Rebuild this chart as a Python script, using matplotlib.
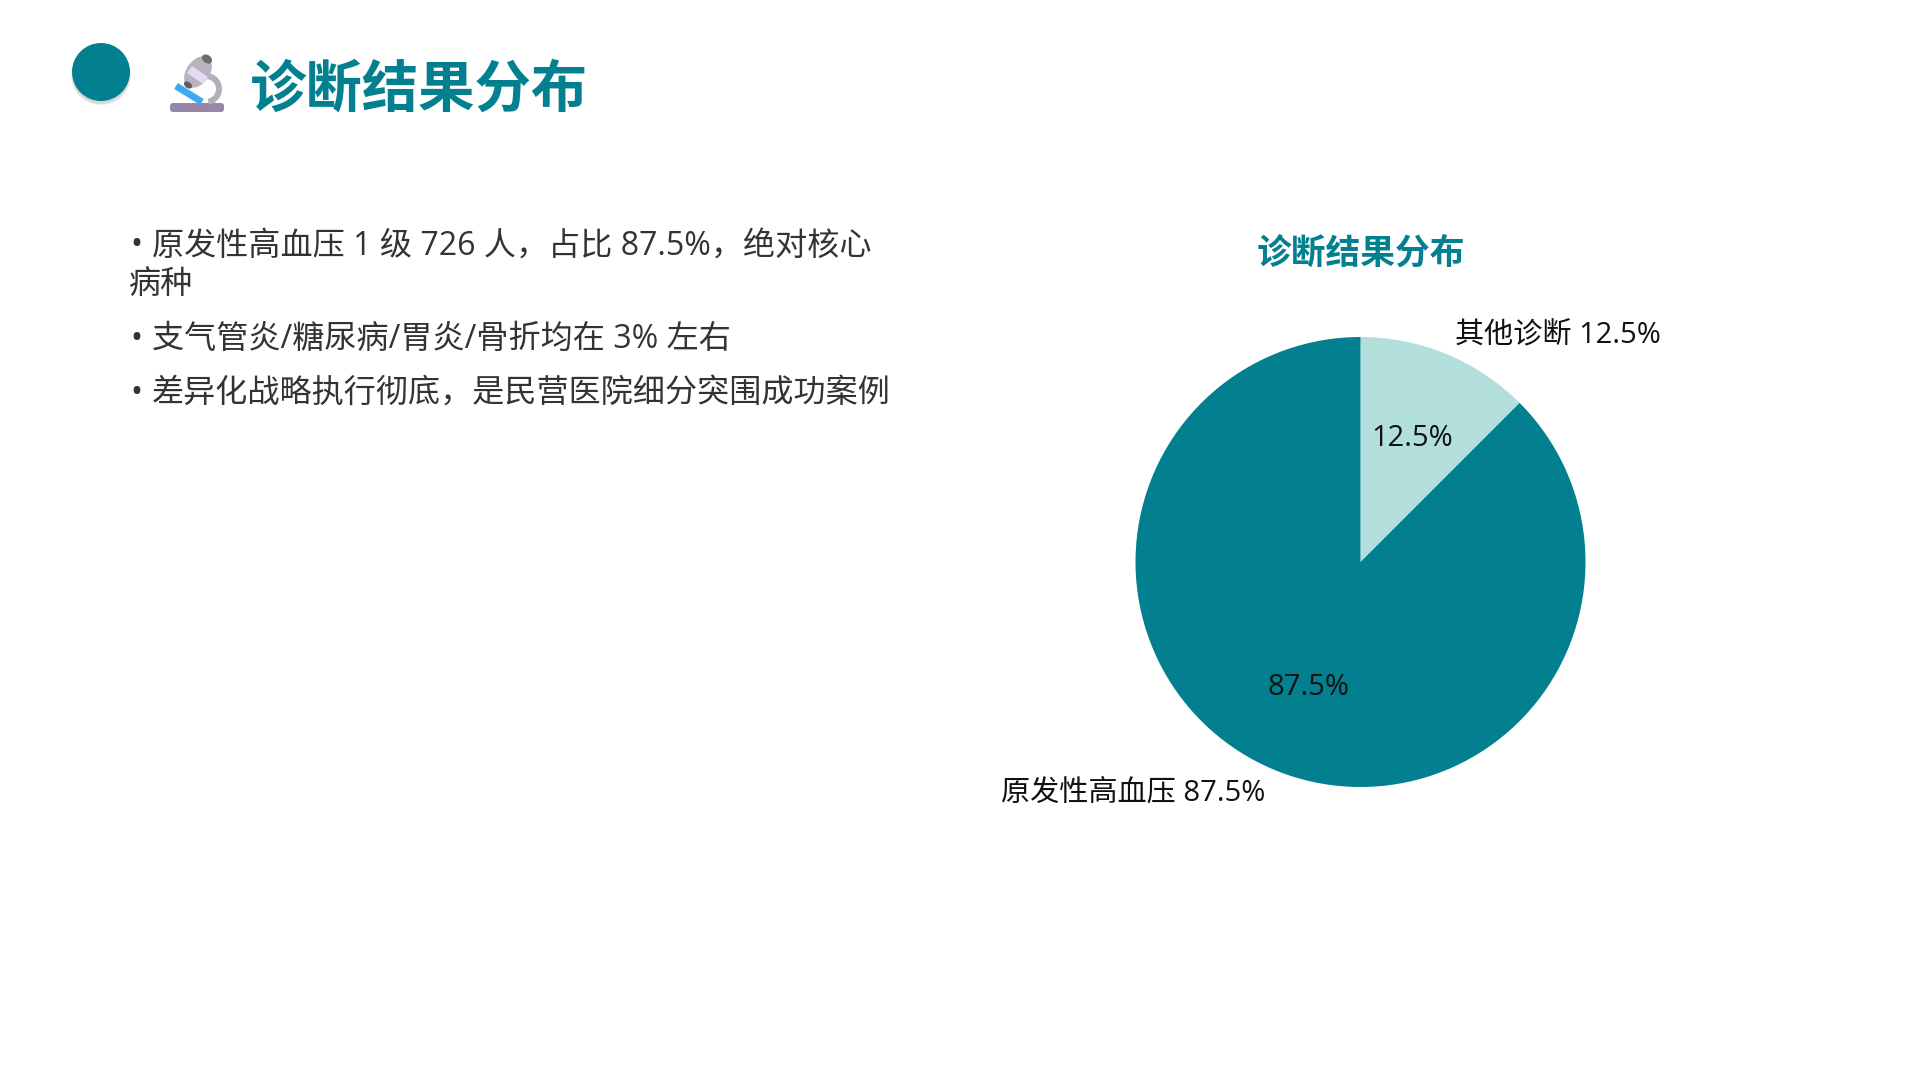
import matplotlib
matplotlib.use('Agg')
import matplotlib.pyplot as plt
from matplotlib.patches import Circle, Ellipse, FancyBboxPatch, Wedge, Polygon

plt.rcParams['font.family'] = ['Open Sans', 'Noto Sans CJK SC', 'DejaVu Sans']

# Data
labels = ['其他诊断 12.5%', '原发性高血压 87.5%']
values = [12.5, 87.5]
colors = ['#B2DFDB', '#028090']
page_title = '诊断结果分布'
chart_title = '诊断结果分布'
bullets = [
    '原发性高血压 1 级 726 人，占比 87.5%，绝对核心',
    '支气管炎/糖尿病/胃炎/骨折均在 3% 左右',
    '差异化战略执行彻底，是民营医院细分突围成功案例',
]
bullet_y = [246, 339, 393]
wrapped_line = '病种'
wrapped_y = 285

W, H = 1920, 1080
fig = plt.figure(figsize=(W / 100, H / 100), dpi=100, facecolor='white')

# overlay in pixel coordinates for the slide parts
bg = fig.add_axes([0, 0, 1, 1])
bg.set_xlim(0, W)
bg.set_ylim(H, 0)
bg.axis('off')

# round badge with soft shadow
for i in range(8):
    bg.add_patch(Circle((101, 75), 30.5 - 0.3 * i, color='#000000', alpha=0.02, lw=0))
bg.add_patch(Circle((101, 72), 29, color='#028090', lw=0))

# microscope icon
bg.add_patch(FancyBboxPatch((170, 103), 54, 9, boxstyle='round,pad=0,rounding_size=3', fc='#9587A5', ec='none'))
bg.add_patch(Wedge((206, 89), 16, -85, 80, width=6, fc='#B4AEB8', ec='none'))
bg.plot([176, 202], [86, 102], color='#3FA9F5', lw=5, solid_capstyle='butt')
bg.add_patch(Ellipse((198, 72), 23, 35, angle=36, fc='#B9B3BD', ec='none'))
bg.add_patch(Polygon([[187, 73], [203, 84], [208, 77], [192, 66]], fc='#E6D9F2', ec='none'))
bg.add_patch(Ellipse((207, 59), 11, 8, angle=36, fc='#6E6A70', ec='none'))
bg.add_patch(Ellipse((188, 85), 9, 6, angle=36, fc='#5E5A60', ec='none'))

# headings and bullets
bg.text(250, 92, page_title, fontsize=40.6, fontweight='bold', color='#028090', ha='left', va='center')
for line, y in zip(bullets, bullet_y):
    bg.text(130, y, '•', fontsize=23.1, color='#333333', ha='left', va='center')
    bg.text(152, y, line, fontsize=23.1, color='#333333', ha='left', va='center')
bg.text(129, wrapped_y, wrapped_line, fontsize=23.1, color='#333333', ha='left', va='center')

# pie chart
cx, cy, r = 1360.5, 562, 225
span = r * 1.25
ax = fig.add_axes([(cx - span) / W, 1 - (cy + span) / H, 2 * span / W, 2 * span / H])
wedges, texts, pcts = ax.pie(values, labels=labels, colors=colors, autopct='%1.1f%%', startangle=90,
                             counterclock=False, pctdistance=0.6, labeldistance=1.1,
                             textprops={'fontsize': 21, 'color': '#111111'},
                             wedgeprops={'linewidth': 0})
for t in texts:
    x, y = t.get_position()
    t.set_position((x, y - 0.011))
for t in pcts:
    x, y = t.get_position()
    t.set_position((x, y - 0.005))
ax.set_xlim(-1.25, 1.25)
ax.set_ylim(-1.25, 1.25)
bg.text(cx, 255, chart_title, fontsize=25, fontweight='bold', color='#028090', ha='center', va='center')

fig.savefig('out.png', dpi=100)
